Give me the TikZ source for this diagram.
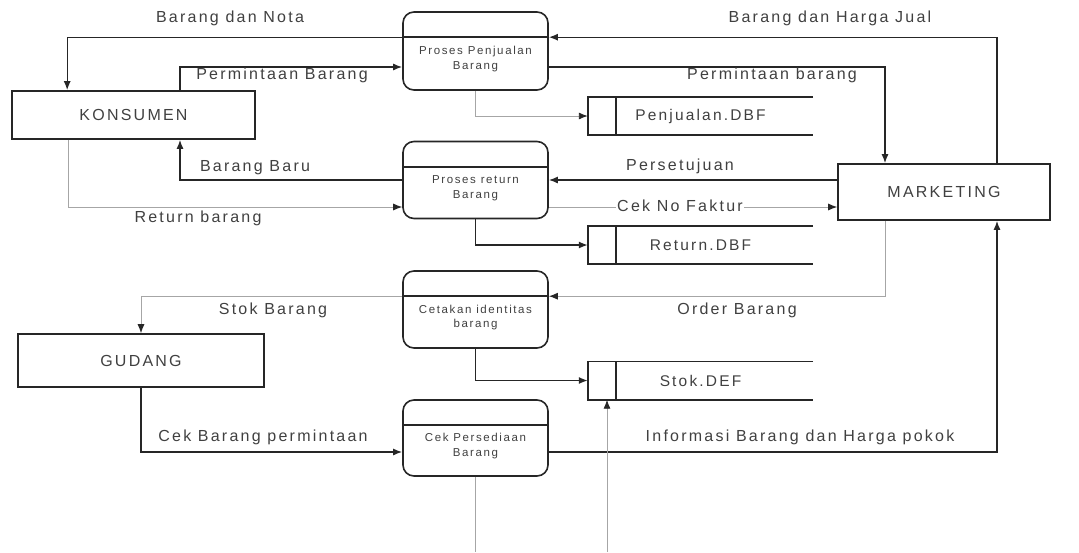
\documentclass[tikz,border=0pt]{standalone}
\usepackage{fontspec}
\setmainfont[LetterSpace=14]{Liberation Sans}
\usetikzlibrary{arrows.meta}

\begin{document}
\begin{tikzpicture}[x=1pt, y=-1pt,
    boxline/.style={line width=1.6pt, draw=black!85},
    entity/.style={boxline, rectangle, font=\fontsize{16}{18}\selectfont, text=black!75},
    process/.style={boxline, rounded corners=11pt, minimum width=145pt,
      align=center, font=\fontsize{11.5}{14.5}\selectfont, text=black!75},
    store/.style={minimum width=225pt, minimum height=38pt,
      font=\fontsize{15.5}{17}\selectfont, text=black!75},
    lbl/.style={font=\fontsize{16}{18}\selectfont, text=black!75, inner sep=1pt},
    flow/.style={line width=1.4pt, draw=black!85, -{Latex[length=9pt,width=7pt]}},
    weak/.style={line width=0.9pt, draw=black!35, -{Latex[length=9pt,width=7pt,black!85]}}]

  \useasboundingbox (0,0) rectangle (1079,552);

  % Nodes:
  \node[entity, minimum width=243pt, minimum height=48pt] (kons) at (133.5,115) {KONSUMEN};
  \node[entity, minimum width=212pt, minimum height=56pt] (mkt) at (944,192) {MARKETING};
  \node[entity, minimum width=246pt, minimum height=53pt] (gud) at (141,360.5) {GUDANG};

  \node[process, minimum height=78pt] (p1) at (475.5,51) {\strut\\Proses Penjualan\\Barang};
  \node[process, minimum height=77pt] (p2) at (475.5,180) {\strut\\Proses return\\Barang};
  \node[process, minimum height=77pt] (p3) at (475.5,309.5) {\strut\\Cetakan identitas\\barang};
  \node[process, minimum height=76pt] (p4) at (475.5,438) {\strut\\Cek Persediaan\\Barang};

  \node[store] (pjl) at (700.5,116) {Penjualan.DBF};
  \node[store] (rtr) at (700.5,245) {Return.DBF};
  \node[store] (stk) at (700.5,380.5) {Stok.DEF};

  % Process bars and store sides:
  \foreach \p in {p1,p2,p3,p4}
    \draw[boxline] ([yshift=-26pt]\p.north west) -- ([yshift=-26pt]\p.north east);
  \foreach \s in {pjl,rtr,stk} {
    \draw[boxline] (\s.north east) -- (\s.north west) -- (\s.south west) -- (\s.south east);
    \draw[boxline] ([xshift=28pt]\s.north west) -- ([xshift=28pt]\s.south west);
  }

  \coordinate (p2r) at ([yshift=-27pt]p2.east);
  \coordinate (cutA) at (475.5,552);
  \coordinate (cutB) at (607,552);

  % Connections:
  \draw[flow] ([yshift=-26pt]p1.north west) -| ([xshift=56pt]kons.north west);
  \draw[flow] ([xshift=53pt]mkt.north) |- ([yshift=-26pt]p1.north east);
  \draw[flow] ([xshift=46.5pt]kons.north) |- ([yshift=-16pt]p1.west);
  \draw[flow] ([yshift=-16pt]p1.east) -| ([xshift=-59pt]mkt.north);
  \draw[weak] (p1.south) |- (pjl.west);

  \draw[flow] (p2.west) -| ([xshift=46.5pt]kons.south);
  \draw[weak] ([xshift=-65.5pt]kons.south) |- ([yshift=-27pt]p2.west);
  \draw[flow] (p2.east -| mkt.west) -- (p2.east);
  \draw[weak] (p2r) -- (p2r -| mkt.west);
  \draw[flow] (p2.south) |- (rtr.west);

  \draw[weak] ([xshift=-59pt]mkt.south) |- ([yshift=-26pt]p3.north east);
  \draw[weak] ([yshift=-26pt]p3.north west) -| (gud.north);
  \draw[flow] (p3.south) |- (stk.west);

  \draw[flow] (gud.south) |- ([yshift=-14pt]p4.west);
  \draw[flow] ([yshift=-14pt]p4.east) -| ([xshift=53pt]mkt.south);
  \draw[line width=0.9pt, black!35] (p4.south) -- (cutA);
  \draw[weak] (cutB) -- (cutB |- stk.south);

  % Labels:
  \node[lbl] (lNota) at (230,18) {Barang dan Nota};
  \node[lbl] (lMinta) at (282,75) {Permintaan Barang};
  \node[lbl] (lJual) at (830,18) {Barang dan Harga Jual};
  \node[lbl] (lMinta2) at (772,75) {Permintaan barang};
  \node[lbl] (lBaru) at (255,168) {Barang Baru};
  \node[lbl] (lReturn) at (198,218) {Return barang};
  \node[lbl] (lSetuju) at (680,166) {Persetujuan};
  \node[lbl, fill=white] (lFaktur) at (680,206) {Cek No Faktur};
  \node[lbl] (lOrder) at (737,310) {Order Barang};
  \node[lbl] (lStok) at (273,310) {Stok Barang};
  \node[lbl] (lCek) at (263,437) {Cek Barang permintaan};
  \node[lbl] (lInfo) at (800,437) {Informasi Barang dan Harga pokok};

\end{tikzpicture}
\end{document}
